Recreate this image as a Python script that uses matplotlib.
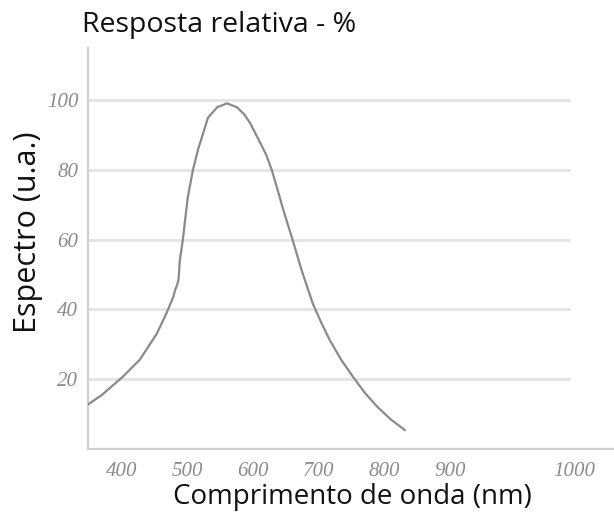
import matplotlib
matplotlib.use("Agg")
import matplotlib.pyplot as plt

# curve (wavelength nm, relative response %)
wavelength = [347, 370, 401, 427, 453, 468, 478, 481, 484, 486, 488, 493, 500, 508,
              516, 531, 545, 560, 575, 586, 595, 610, 620, 628, 636, 645, 659, 674,
              691, 704, 717, 734, 752, 770, 789, 810, 831]
response = [12.5, 15.5, 20.6, 25.5, 33.0, 39.0, 43.5, 45.6, 47.0, 48.5, 54.0, 60.5,
            72.0, 80.0, 86.0, 95.0, 98.0, 99.1, 98.0, 96.0, 93.5, 88.0, 84.2, 80.1,
            75.0, 69.0, 60.5, 51.0, 41.5, 36.0, 31.0, 25.5, 20.6, 16.0, 12.0, 8.3,
            5.3]

ytick_values = [20, 40, 60, 80, 100]
xtick_labels = ["400", "500", "600", "700", "800", "900", "1000"]
# the scan puts "1000" well to the right of where a linear scale would
xtick_pos = [400, 500, 600, 700, 800, 900, 1090]

fig = plt.figure(figsize=(6.14, 5.2), dpi=100)
fig.patch.set_facecolor("white")
ax = fig.add_axes([88 / 614, 71.5 / 520, 526 / 614, 400.5 / 520])

ax.set_xlim(348, 1150)
ax.set_ylim(0, 115)

ax.hlines(ytick_values, 348, 1083, colors="#e3e3e3", linewidth=2, zorder=1)
ax.plot(wavelength, response, color="#8a8a8a", linewidth=1.6, zorder=3)

for side in ("top", "right"):
    ax.spines[side].set_visible(False)
for side in ("left", "bottom"):
    ax.spines[side].set_color("#d0d0d0")
    ax.spines[side].set_linewidth(1.6)

tick_font = dict(family="Liberation Serif", style="italic", size=15, color="#8c8c8c")
ax.set_yticks(ytick_values)
ax.set_yticklabels([str(v) for v in ytick_values], **tick_font)
ax.set_xticks(xtick_pos)
ax.set_xticklabels(xtick_labels, **tick_font)
ax.tick_params(axis="both", length=0)
ax.tick_params(axis="y", pad=7)
ax.tick_params(axis="x", pad=10)

fig.text(82 / 614, 1 - 25 / 520, "Resposta relativa - %", fontsize=20.5,
         family="Open Sans", color="#111111", ha="left", va="center")
fig.text(28 / 614, 1 - 232 / 520, "Espectro (u.a.)", fontsize=22, rotation=90,
         family="Open Sans", color="#111111", ha="center", va="center")
fig.text(352 / 614, 1 - 497 / 520, "Comprimento de onda (nm)", fontsize=20,
         family="Open Sans", color="#111111", ha="center", va="center")

fig.savefig("out.png", dpi=100, facecolor="white")
